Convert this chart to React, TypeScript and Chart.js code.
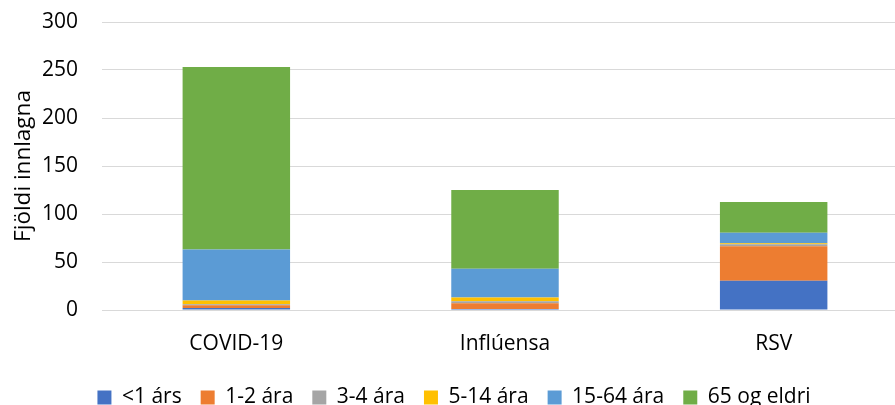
import React, { useEffect, useRef } from "react";
import { Chart, registerables } from "chart.js";

Chart.register(...registerables);

const categories = ["COVID-19", "Inflúensa", "RSV"];
const seriesLabels = ["<1 árs", "1-2 ára", "3-4 ára", "5-14 ára", "15-64 ára", "65 og eldri"];
const under1 = [2, 1, 30.5];
const age1to2 = [3, 6, 36];
const age3to4 = [1, 2, 2];
const age5to14 = [4, 4, 1];
const age15to64 = [53, 30, 11];
const age65plus = [190, 82, 32];
const seriesColors = ["#4472C4", "#ED7D31", "#A5A5A5", "#FFC000", "#5B9BD5", "#70AD47"];
const yTicks = [0, 50, 100, 150, 200, 250, 300];

const FONT = "'Open Sans', sans-serif";

export default function App() {
  const ref = useRef<HTMLCanvasElement | null>(null);
  useEffect(() => {
    if (!ref.current) return;
    const values = [under1, age1to2, age3to4, age5to14, age15to64, age65plus];
    const chart = new Chart(ref.current, {
      type: "bar",
      data: {
        labels: categories,
        datasets: values.map((v, i) => ({
          label: seriesLabels[i],
          data: v,
          backgroundColor: seriesColors[i],
          borderWidth: 0,
          barPercentage: 0.4,
          categoryPercentage: 1,
        })),
      },
      options: {
        responsive: false,
        animation: false,
        layout: { padding: { top: 22, right: 6, left: 0, bottom: 0 } },
        plugins: {
          tooltip: { enabled: false },
          legend: {
            position: "bottom",
            labels: {
              boxWidth: 14,
              boxHeight: 14,
              padding: 19,
              color: "#000",
              font: { family: FONT, size: 21 },
            },
          },
        },
        scales: {
          x: {
            stacked: true,
            grid: { display: false },
            border: { display: false },
            ticks: { color: "#000", font: { family: FONT, size: 21 }, padding: 13 },
            afterFit: (s: any) => { s.height = 58; },
          },
          y: {
            stacked: true,
            min: 0,
            max: 300,
            afterBuildTicks: (s: any) => { s.ticks = yTicks.map((v) => ({ value: v })); },
            grid: { color: "#D9D9D9", lineWidth: 1, drawTicks: false },
            border: { display: false },
            ticks: { color: "#000", font: { family: FONT, size: 21 }, padding: 24 },
            title: {
              display: true,
              text: "Fjöldi innlagna",
              color: "#000",
              font: { family: FONT, size: 22.5 },
              padding: { top: 10, bottom: 0 },
            },
            afterFit: (s: any) => { s.width = 102; s.paddingTop = 0; s.paddingBottom = 0; },
          },
        },
      },
    });
    return () => chart.destroy();
  }, []);
  return (
    <div style={{ position: "absolute", left: 0, top: 0, width: 895, height: 405, overflow: "hidden", background: "#fff" }}>
      <canvas ref={ref} width={914} height={418} style={{ display: "block" }} />
    </div>
  );
}
